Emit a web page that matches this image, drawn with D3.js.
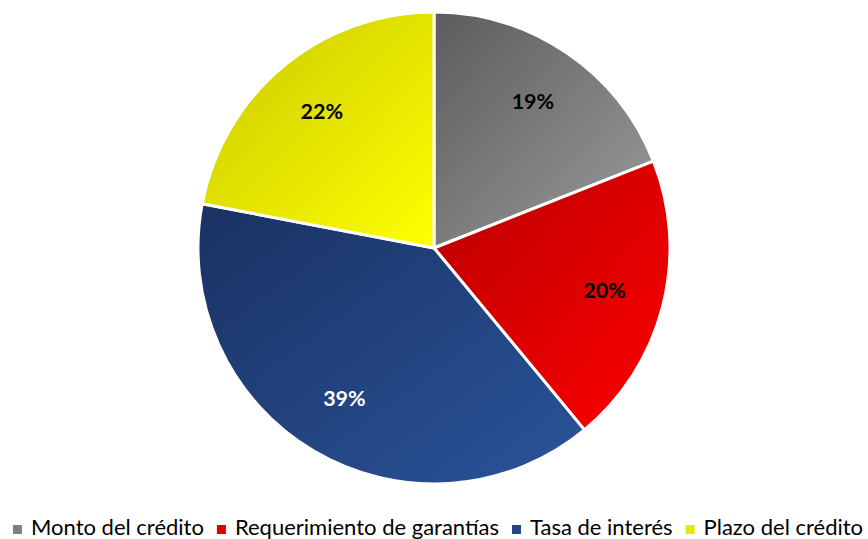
<!DOCTYPE html>
<html>
<head>
<meta charset="utf-8">
<script src="https://cdn.jsdelivr.net/npm/d3@7"></script>
<style>
  body { margin: 0; background: #fff; }
  text { font-family: Lato, "Open Sans", sans-serif; }
</style>
</head>
<body>
<svg class="canvas"></svg>
<script>
// Setting constants
const wWidth = 868
const wHeight = 539

// Data
const categories = ["Monto del crédito", "Requerimiento de garantías", "Tasa de interés", "Plazo del crédito"];
const values = [19, 20, 39, 22];
const labels = ["19%", "20%", "39%", "22%"];

// gradient stops per slice (dark -> light)
const darkColors = ["#5c5c5c", "#b80000", "#1a3163", "#c8c800"];
const lightColors = ["#9c9c9c", "#ff0000", "#2a549a", "#ffff00"];
const legendColors = ["#808080", "#e00000", "#24467f", "#e8e800"];
const labelColors = ["#000", "#000", "#fff", "#000"];

const cx = 434, cy = 248, radius = 236;

const svg = d3.select('.canvas')
    .attr("width", wWidth)
    .attr("height", wHeight);

// one gradient per slice, over its own bounding box
const defs = svg.append('defs');
categories.forEach((c, i) => {
    const g = defs.append('linearGradient')
        .attr('id', 'grad' + i)
        .attr('x1', 0).attr('y1', 0)
        .attr('x2', 1).attr('y2', 1);
    g.append('stop').attr('offset', '0%').attr('stop-color', darkColors[i]);
    g.append('stop').attr('offset', '100%').attr('stop-color', lightColors[i]);
});

const pie = d3.pie().sort(null).value(d => d);
const arcs = pie(values);
const arc = d3.arc().innerRadius(0).outerRadius(radius);
const labelArc = d3.arc().innerRadius(176).outerRadius(176);

const graph = svg.append('g')
    .attr('transform', `translate(${cx}, ${cy})`);

graph.selectAll('path')
    .data(arcs)
    .enter()
    .append('path')
    .attr('d', arc)
    .attr('fill', (d, i) => `url(#grad${i})`)
    .attr('stroke', '#fff')
    .attr('stroke-width', 3)
    .attr('stroke-linejoin', 'round');

// Percent labels
graph.selectAll('text.lbl')
    .data(arcs)
    .enter()
    .append('text')
    .attr('class', 'lbl')
    .attr('transform', d => `translate(${labelArc.centroid(d)})`)
    .attr('text-anchor', 'middle')
    .attr('dy', '0.3em')
    .attr('font-size', 21.5)
    .attr('font-weight', 'bold')
    .attr('fill', (d, i) => labelColors[i])
    .text((d, i) => labels[i]);

// Legend
const legend = svg.append('g');
const items = legend.selectAll('g')
    .data(categories)
    .enter()
    .append('g');

items.append('rect')
    .attr('width', 9).attr('height', 9)
    .attr('y', -10)
    .attr('fill', (d, i) => legendColors[i]);

items.append('text')
    .attr('x', 18)
    .attr('font-size', 22)
    .attr('fill', '#000')
    .text(d => d);

let xPos = 0;
items.each(function() {
    const w = d3.select(this).select('text').node().getComputedTextLength();
    d3.select(this).attr('transform', `translate(${xPos}, 0)`);
    xPos += 18 + w + 13;
});
const totalW = xPos - 13;
legend.attr('transform', `translate(${(wWidth - totalW) / 2 + 4}, 535)`);
</script>
</body>
</html>
